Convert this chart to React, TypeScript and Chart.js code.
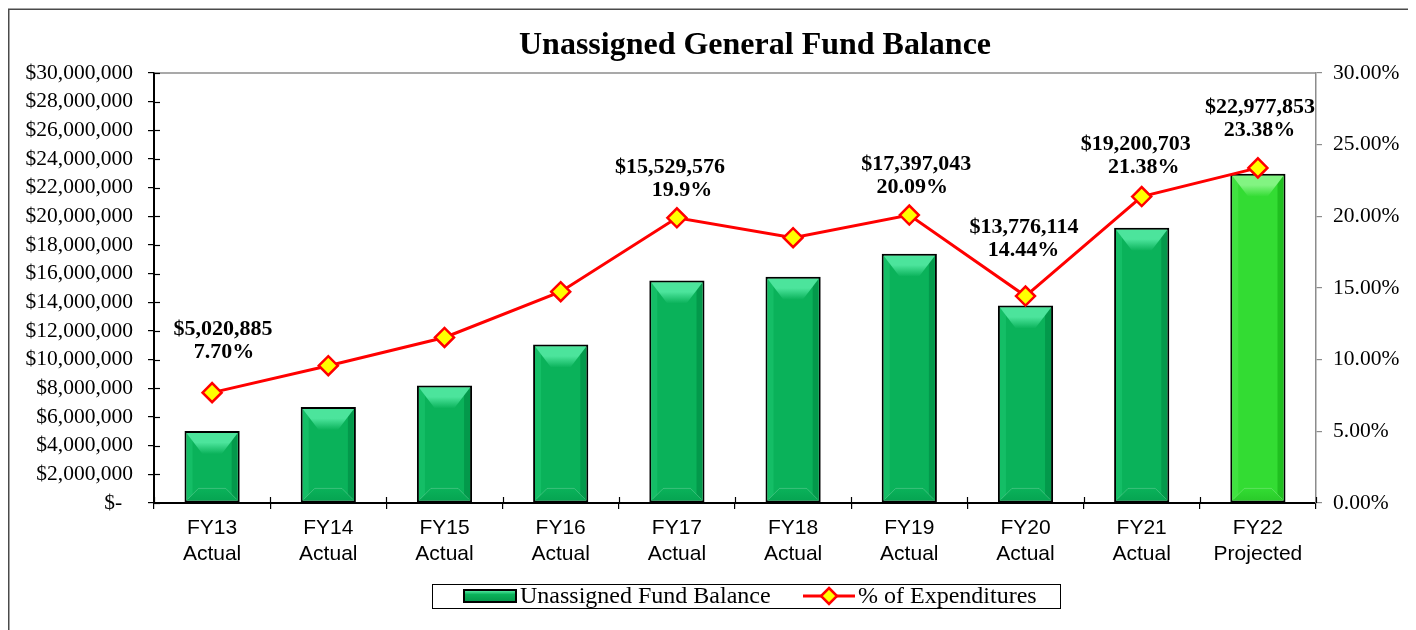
import React, { useEffect, useRef } from "react";
import { Chart, registerables } from "chart.js";

Chart.register(...registerables);

// ---------- data ----------
const categories: string[][] = [
  ["FY13", "Actual"],
  ["FY14", "Actual"],
  ["FY15", "Actual"],
  ["FY16", "Actual"],
  ["FY17", "Actual"],
  ["FY18", "Actual"],
  ["FY19", "Actual"],
  ["FY20", "Actual"],
  ["FY21", "Actual"],
  ["FY22", "Projected"],
];
const fundBalance = [5020885, 6700000, 8200000, 11050000, 15529576, 15790000, 17397043, 13776114, 19200703, 22977853];
const pctExpenditures = [7.7, 9.58, 11.55, 14.74, 19.9, 18.51, 20.09, 14.44, 21.38, 23.38];
const dollarLabels: (string | null)[] = ["$5,020,885", null, null, null, "$15,529,576", null, "$17,397,043", "$13,776,114", "$19,200,703", "$22,977,853"];
const pctLabels: (string | null)[] = ["7.70%", null, null, null, "19.9%", null, "20.09%", "14.44%", "21.38%", "23.38%"];
const leftAxisMax = 30000000;
const leftAxisStep = 2000000;
const rightAxisMax = 30;
const rightAxisStep = 5;
const titleText = "Unassigned General Fund Balance";
const barSeriesName = "Unassigned Fund Balance";
const lineSeriesName = "% of Expenditures";

// ---------- styles ----------
const SERIF = "'Liberation Serif', 'Times New Roman', serif";
const SANS = "'Liberation Sans', Arial, sans-serif";
const W = 1408;
const H = 622;
// label offsets relative to the point: [dx line1, dx line2, dy line2]
const labelOffsets: Record<number, number[]> = {
  0: [11, 12, -40.5],
  4: [-7, 5, -27],
  6: [7, 3, -28],
  7: [-1.5, -2, -46],
  8: [-6, 2, -29.5],
  9: [2, 1.5, -37.5],
};
const palettes = [
  { body: "#0AB25A", top: "#4CE49C", left: "#14BE66", side: "#03994B", bottom: "#06A552" },
  { body: "#33DC33", top: "#82F482", left: "#40E240", side: "#20C020", bottom: "#2ACB2A" },
];
const paletteIndex = (i: number) => (i === categories.length - 1 ? 1 : 0);

function poly(ctx: CanvasRenderingContext2D, pts: number[][], fill: string | CanvasGradient) {
  ctx.beginPath();
  ctx.moveTo(pts[0][0], pts[0][1]);
  for (let k = 1; k < pts.length; k++) ctx.lineTo(pts[k][0], pts[k][1]);
  ctx.closePath();
  ctx.fillStyle = fill;
  ctx.fill();
}

const bevelPlugin = {
  id: "bevel",
  afterDatasetDraw(chart: any, args: any) {
    if (args.index !== 0) return;
    const ctx: CanvasRenderingContext2D = chart.ctx;
    args.meta.data.forEach((bar: any, i: number) => {
      const { x, y, base, width } = bar.getProps(["x", "y", "base", "width"], true);
      const bw = 2;
      const l = x - width / 2 + bw;
      const r = x + width / 2 - bw;
      const t = Math.min(y, base) + bw;
      const b = Math.max(y, base) - bw;
      const pal = palettes[paletteIndex(i)];
      const dx = Math.min(16, (r - l) / 2 - 3);
      const dy = Math.min(21, (b - t) / 2);
      const sw = 6;
      const bd = Math.min(12, (b - t) / 3);
      ctx.save();
      ctx.beginPath();
      ctx.rect(l, t, r - l, b - t);
      ctx.clip();
      poly(ctx, [[l, t], [l + sw, t + sw], [l + sw, b - sw], [l, b]], pal.left);
      poly(ctx, [[r, t], [r, b], [r - sw, b - sw], [r - sw, t + sw]], pal.side);
      const gb = ctx.createLinearGradient(0, b - bd, 0, b);
      gb.addColorStop(0, pal.body);
      gb.addColorStop(1, pal.bottom);
      poly(ctx, [[l, b], [r, b], [r - bd, b - bd], [l + bd, b - bd]], gb);
      ctx.strokeStyle = "rgba(255,255,255,0.2)";
      ctx.lineWidth = 1;
      ctx.beginPath();
      ctx.moveTo(l + 1, b - 1);
      ctx.lineTo(l + bd, b - bd);
      ctx.lineTo(r - bd, b - bd);
      ctx.lineTo(r - 1, b - 1);
      ctx.stroke();
      const gt = ctx.createLinearGradient(0, t, 0, t + dy);
      gt.addColorStop(0, pal.top);
      gt.addColorStop(0.45, pal.top);
      gt.addColorStop(1, pal.body);
      poly(ctx, [[l, t], [r, t], [r - dx, t + dy], [l + dx, t + dy]], gt);
      ctx.restore();
    });
  },
};

const decorPlugin = {
  id: "decor",
  beforeDraw(chart: any) {
    const ctx: CanvasRenderingContext2D = chart.ctx;
    ctx.save();
    ctx.fillStyle = "#FFFFFF";
    ctx.fillRect(0, 0, chart.width, chart.height);
    ctx.strokeStyle = "#4A4A4A";
    ctx.lineWidth = 1.5;
    ctx.strokeRect(0.75, 1.25, 1403.5, 700);
    ctx.restore();
  },
  afterDraw(chart: any) {
    const ctx: CanvasRenderingContext2D = chart.ctx;
    const area = chart.chartArea;
    const ys = chart.scales.y;
    const xs = chart.scales.x;
    ctx.save();
    ctx.strokeStyle = "#8C8C8C";
    ctx.lineWidth = 1.5;
    ctx.beginPath();
    ctx.moveTo(area.left, area.top);
    ctx.lineTo(area.right, area.top);
    ctx.stroke();
    ctx.strokeStyle = "#000000";
    ctx.lineWidth = 1.2;
    ys.ticks.forEach((tk: any) => {
      const py = Math.round(ys.getPixelForValue(tk.value)) + 0.5;
      ctx.beginPath();
      ctx.moveTo(area.left, py);
      ctx.lineTo(area.left + 6, py);
      ctx.stroke();
    });
    for (let i = 0; i <= categories.length; i++) {
      const px = Math.round(xs.getPixelForValue(i - 0.5)) + 0.5;
      ctx.beginPath();
      ctx.moveTo(px, area.bottom);
      ctx.lineTo(px, area.bottom - 6);
      ctx.stroke();
    }
    ctx.fillStyle = "#000000";
    ctx.font = `bold 32px ${SERIF}`;
    ctx.textAlign = "center";
    ctx.textBaseline = "alphabetic";
    ctx.fillText(titleText, 747, 46);

    const lx0 = 424, lx1 = 1052, ly0 = 576, ly1 = 600;
    ctx.strokeStyle = "#000000";
    ctx.lineWidth = 1;
    ctx.strokeRect(lx0 + 0.5, ly0 + 0.5, lx1 - lx0, ly1 - ly0);
    const cy = (ly0 + ly1) / 2;
    const sx0 = 455, sx1 = 509, sy0 = cy - 7, sy1 = cy + 7;
    ctx.fillStyle = "#000000";
    ctx.fillRect(sx0, sy0, sx1 - sx0, sy1 - sy0);
    const g = ctx.createLinearGradient(0, sy0 + 2, 0, sy1 - 2);
    g.addColorStop(0, palettes[0].top);
    g.addColorStop(0.35, palettes[0].body);
    g.addColorStop(1, palettes[0].side);
    ctx.fillStyle = g;
    ctx.fillRect(sx0 + 2, sy0 + 2, sx1 - sx0 - 4, sy1 - sy0 - 4);
    ctx.font = `24px ${SERIF}`;
    ctx.textAlign = "left";
    ctx.textBaseline = "middle";
    ctx.fillStyle = "#000000";
    ctx.fillText(barSeriesName, 512, cy + 1);
    ctx.strokeStyle = "#FF0000";
    ctx.lineWidth = 3;
    ctx.beginPath();
    ctx.moveTo(795, cy);
    ctx.lineTo(847, cy);
    ctx.stroke();
    ctx.beginPath();
    ctx.moveTo(821, cy - 8);
    ctx.lineTo(829, cy);
    ctx.lineTo(821, cy + 8);
    ctx.lineTo(813, cy);
    ctx.closePath();
    ctx.fillStyle = "#FFFF00";
    ctx.fill();
    ctx.lineWidth = 2.5;
    ctx.stroke();
    ctx.fillStyle = "#000000";
    ctx.fillText(lineSeriesName, 850, cy + 1);
    ctx.restore();
  },
};

const labelPlugin = {
  id: "pointLabels",
  afterDatasetsDraw(chart: any) {
    const ctx: CanvasRenderingContext2D = chart.ctx;
    const meta = chart.getDatasetMeta(1);
    ctx.save();
    ctx.fillStyle = "#000000";
    ctx.font = `bold 22px ${SERIF}`;
    ctx.textAlign = "center";
    ctx.textBaseline = "middle";
    meta.data.forEach((pt: any, i: number) => {
      const d = dollarLabels[i];
      const p = pctLabels[i];
      const off = labelOffsets[i];
      if (!d || !p || !off) return;
      const { x, y } = pt.getProps(["x", "y"], true);
      ctx.fillText(d, x + off[0], y + off[2] - 23);
      ctx.fillText(p, x + off[1], y + off[2]);
    });
    ctx.restore();
  },
};

export default function App() {
  const ref = useRef<HTMLCanvasElement | null>(null);
  useEffect(() => {
    document.body.style.overflow = "hidden";
    if (!ref.current) return;
    const chart = new Chart(ref.current, {
      type: "bar",
      data: {
        labels: categories,
        datasets: [
          {
            type: "bar",
            label: barSeriesName,
            data: fundBalance,
            yAxisID: "y",
            backgroundColor: fundBalance.map((_, i) => palettes[paletteIndex(i)].body),
            borderColor: "#000000",
            borderWidth: 2,
            borderSkipped: false,
            barPercentage: 0.475,
            categoryPercentage: 1,
            order: 1,
          } as any,
          {
            type: "line",
            label: lineSeriesName,
            data: pctExpenditures,
            yAxisID: "y1",
            borderColor: "#FF0000",
            borderWidth: 3,
            tension: 0,
            pointStyle: "rectRot",
            pointRadius: 9.5,
            pointBackgroundColor: "#FFFF00",
            pointBorderColor: "#FF0000",
            pointBorderWidth: 2.5,
            order: 0,
          } as any,
        ],
      },
      options: {
        animation: false,
        responsive: false,
        events: [],
        layout: { padding: { top: 65, left: 0, right: 0, bottom: 0 } },
        plugins: {
          legend: { display: false },
          tooltip: { enabled: false },
          title: { display: false },
        },
        scales: {
          x: {
            type: "category",
            offset: true,
            grid: { display: true, drawOnChartArea: false, drawTicks: true, tickLength: 6, color: "#000000", lineWidth: 1.2, offset: true },
            border: { display: true, color: "#000000", width: 2 },
            ticks: {
              color: "#000000",
              font: { family: SANS, size: 21, lineHeight: 1.2 },
              padding: 7,
              maxRotation: 0,
              autoSkip: false,
            },
            afterFit: (s: any) => { s.height = 127; },
          },
          y: {
            type: "linear",
            position: "left",
            min: 0,
            max: leftAxisMax,
            grid: { display: true, drawOnChartArea: false, drawTicks: true, tickLength: 6, color: "#000000", lineWidth: 1.2 },
            border: { display: true, color: "#000000", width: 2 },
            ticks: {
              stepSize: leftAxisStep,
              autoSkip: false,
              color: "#000000",
              font: { family: SERIF, size: 21.5 },
              padding: 15,
              callback: (v: any) => (Number(v) === 0 ? "$-  " : "$" + Number(v).toLocaleString("en-US")),
            },
            afterFit: (s: any) => { s.width = 146; },
          },
          y1: {
            type: "linear",
            position: "right",
            min: 0,
            max: rightAxisMax,
            grid: { display: true, drawOnChartArea: false, drawTicks: true, tickLength: 6, color: "#8C8C8C", lineWidth: 1.2 },
            border: { display: true, color: "#8C8C8C", width: 1.5 },
            ticks: {
              stepSize: rightAxisStep,
              autoSkip: false,
              color: "#000000",
              font: { family: SERIF, size: 21.5 },
              padding: 11,
              callback: (v: any) => Number(v).toFixed(2) + "%",
            },
            afterFit: (s: any) => { s.width = 100; },
          },
        },
      } as any,
      plugins: [decorPlugin, bevelPlugin, labelPlugin],
    });
    return () => chart.destroy();
  }, []);
  return (
    <div style={{ width: W, height: H }}>
      <canvas ref={ref} width={W} height={H} style={{ display: "block", width: W, height: H }} />
    </div>
  );
}
